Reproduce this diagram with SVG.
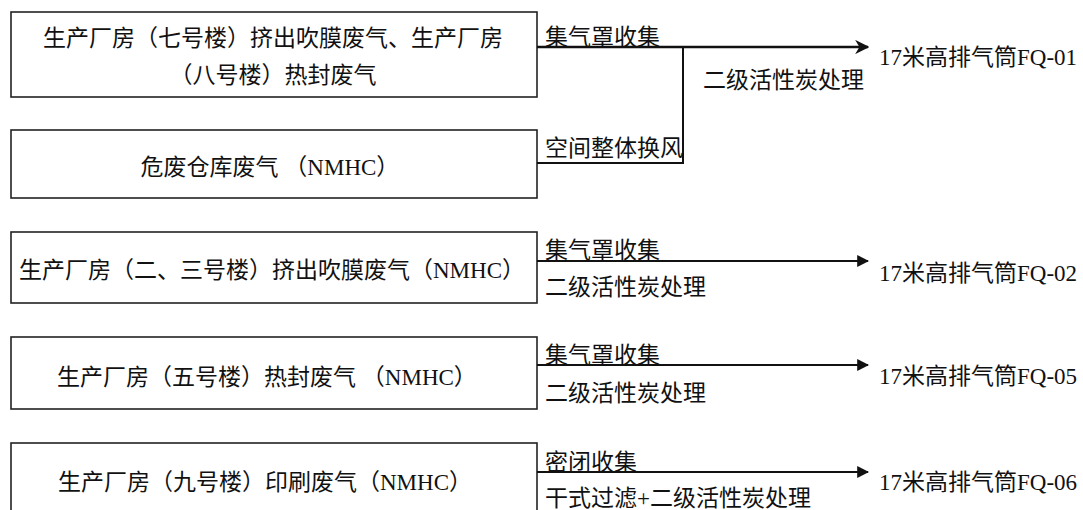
<svg xmlns="http://www.w3.org/2000/svg" width="1083" height="510" viewBox="0 0 1083 510">
<defs>
<style>
.box{fill:#fff;stroke:#222;stroke-width:1.6}
.t{font-family:"Liberation Serif","Noto Sans CJK SC",serif;font-size:23px;fill:#111}
.c{text-anchor:middle}
.ln{fill:none;stroke:#111;stroke-width:2}
</style>
<marker id="ah" viewBox="0 0 10 10" refX="9" refY="5" markerWidth="6" markerHeight="6" orient="auto" markerUnits="strokeWidth">
<path d="M0,0 L10,5 L0,10 z" fill="#111"/>
</marker>
<marker id="ah2" viewBox="0 0 10 10" refX="9" refY="5" markerWidth="5.5" markerHeight="5.5" orient="auto" markerUnits="strokeWidth">
<path d="M0,0 L10,5 L0,10 L3,5 z" fill="#111"/>
</marker>
</defs>
<rect width="1083" height="510" fill="#fff"/>
<g id="n1"><rect class="box" x="11" y="12" width="526" height="85"/>
<text class="t c" x="273" y="46">生产厂房（七号楼）挤出吹膜废气、生产厂房</text>
<text class="t c" x="273" y="83">（八号楼）热封废气</text></g>
<g id="n2"><rect class="box" x="11" y="130" width="526" height="68"/>
<text class="t c" x="270" y="175">危废仓库废气 （NMHC）</text></g>
<g id="n3"><rect class="box" x="11" y="232" width="526" height="71"/>
<text class="t c" x="272" y="278">生产厂房（二、三号楼）挤出吹膜废气（NMHC）</text></g>
<g id="n4"><rect class="box" x="11" y="337" width="526" height="72"/>
<text class="t c" x="267" y="385">生产厂房（五号楼）热封废气 （NMHC）</text></g>
<g id="n5"><rect class="box" x="11" y="443" width="526" height="75"/>
<text class="t c" x="265" y="490">生产厂房（九号楼）印刷废气（NMHC）</text></g>
<g id="connectors">
<path class="ln" d="M537,47 H868" marker-end="url(#ah2)" style="stroke-width:2.6"/>
<path class="ln" d="M537,163 H683 V47"/>
<path class="ln" d="M537,261 H868" marker-end="url(#ah)"/>
<path class="ln" d="M537,365 H868" marker-end="url(#ah)"/>
<path class="ln" d="M537,472 H868" marker-end="url(#ah)"/>
</g>
<g id="labels">
<text class="t" x="545" y="45">集气罩收集</text>
<text class="t" x="703" y="88">二级活性炭处理</text>
<text class="t" x="545" y="156">空间整体换风</text>
<text class="t" x="879" y="65">17米高排气筒FQ-01</text>
<text class="t" x="545" y="258">集气罩收集</text>
<text class="t" x="545" y="295">二级活性炭处理</text>
<text class="t" x="879" y="281">17米高排气筒FQ-02</text>
<text class="t" x="545" y="363">集气罩收集</text>
<text class="t" x="545" y="401">二级活性炭处理</text>
<text class="t" x="879" y="384">17米高排气筒FQ-05</text>
<text class="t" x="545" y="470">密闭收集</text>
<text class="t" x="545" y="506">干式过滤+二级活性炭处理</text>
<text class="t" x="879" y="490">17米高排气筒FQ-06</text>
</g>
</svg>
